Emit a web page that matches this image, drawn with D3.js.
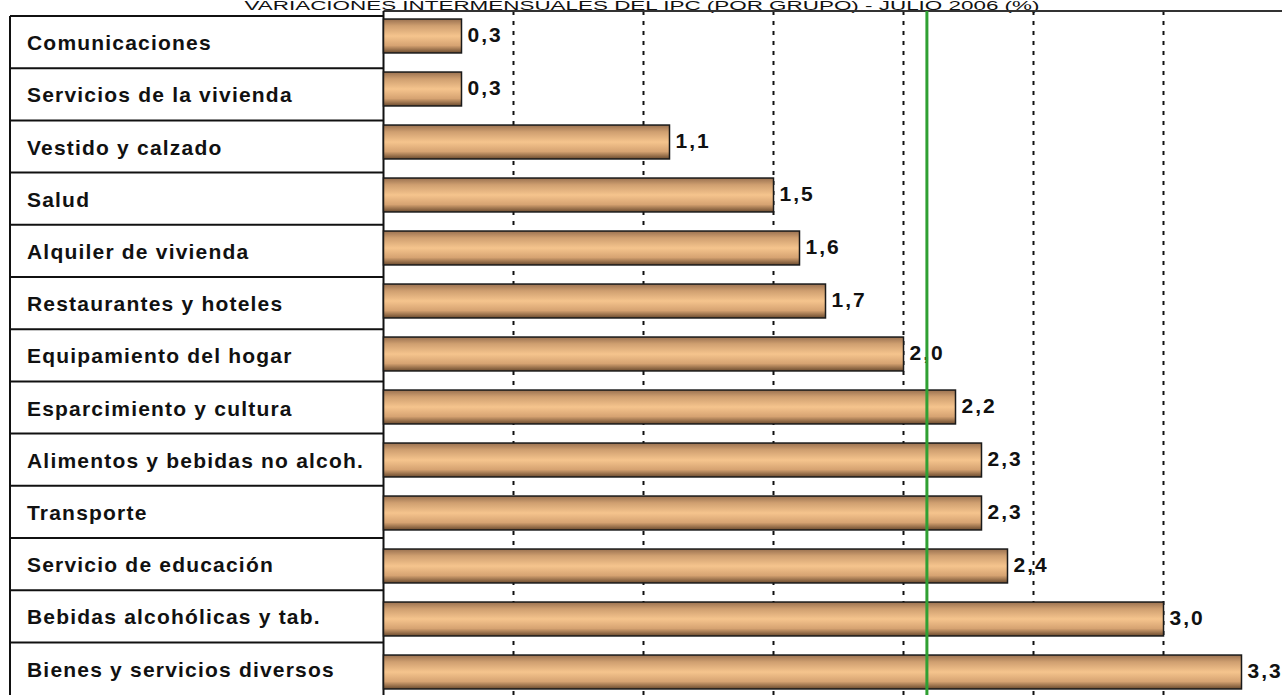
<!DOCTYPE html>
<html>
<head>
<meta charset="utf-8">
<script src="https://cdn.jsdelivr.net/npm/d3@7"></script>
<style>
  html, body { margin: 0; padding: 0; background: #fff; overflow: hidden; }
  svg { display: block; }
  text { font-family: "Liberation Sans", Arial, sans-serif; }
</style>
</head>
<body>
<svg id="chart" width="1282" height="695"></svg>
<script>
// ---- Data ----
const title = "VARIACIONES INTERMENSUALES DEL IPC (POR GRUPO) - JULIO 2006 (%)";
const categories = [
  "Comunicaciones",
  "Servicios de la vivienda",
  "Vestido y calzado",
  "Salud",
  "Alquiler de vivienda",
  "Restaurantes y hoteles",
  "Equipamiento del hogar",
  "Esparcimiento  y cultura",
  "Alimentos y bebidas no alcoh.",
  "Transporte",
  "Servicio de educación",
  "Bebidas alcohólicas y tab.",
  "Bienes y servicios diversos"
];
const values = [0.3, 0.3, 1.1, 1.5, 1.6, 1.7, 2.0, 2.2, 2.3, 2.3, 2.4, 3.0, 3.3];
const valueLabels = ["0,3", "0,3", "1,1", "1,5", "1,6", "1,7", "2,0", "2,2", "2,3", "2,3", "2,4", "3,0", "3,3"];
const gridValues = [0.5, 1.0, 1.5, 2.0, 2.5, 3.0, 3.5];
const generalIndex = [2.09];

// ---- Layout ----
const W = 1282, H = 695;
const plotLeft = 383.5, plotTop = 11;
const svg = d3.select("#chart");

const x = d3.scaleLinear().domain([0, 1]).range([plotLeft, plotLeft + 260]);
const y = d3.scaleBand().domain(categories).range([9.5, 698.5])
  .paddingInner(0.36).paddingOuter(0.18);
const yTable = d3.scaleBand().domain(categories).range([16, 16 + 13 * 52.2]);

// gradient
const defs = svg.append("defs");
const grad = defs.append("linearGradient").attr("id", "barGrad")
  .attr("x1", 0).attr("y1", 0).attr("x2", 0).attr("y2", 1);
[[0, "#9a7150"], [0.2, "#cf9f70"], [0.5, "#f5c48d"], [0.78, "#d6a372"], [1, "#6a4a2e"]]
  .forEach(([o, c]) => grad.append("stop").attr("offset", o).attr("stop-color", c));

// title (at the very top, as in the reference)
svg.append("text").attr("x", 642).attr("y", 9.5)
  .attr("text-anchor", "middle").attr("font-size", 12)
  .attr("textLength", 795).attr("lengthAdjust", "spacingAndGlyphs")
  .attr("fill", "#111").text(title);

// left table
const table = svg.append("g");
table.selectAll("line.row").data(categories).join("line")
  .attr("x1", 10).attr("x2", plotLeft)
  .attr("y1", d => yTable(d)).attr("y2", d => yTable(d))
  .attr("stroke", "#111").attr("stroke-width", 2);
table.append("line").attr("x1", 10).attr("x2", 10).attr("y1", 16).attr("y2", H)
  .attr("stroke", "#111").attr("stroke-width", 2);
table.selectAll("text").data(categories).join("text")
  .attr("x", 27)
  .attr("y", d => yTable(d) + yTable.bandwidth() / 2 + 8)
  .attr("font-size", 21).attr("font-weight", "bold")
  .attr("letter-spacing", 1.2)
  .attr("fill", "#111").text(d => d);

// value labels
svg.append("g").selectAll("text").data(values).join("text")
  .attr("x", d => x(d) + 6)
  .attr("y", (d, i) => y(categories[i]) + y.bandwidth() / 2 + 6)
  .attr("font-size", 21).attr("font-weight", "bold")
  .attr("letter-spacing", 2)
  .attr("fill", "#111").text((d, i) => valueLabels[i]);

// gridlines
svg.append("g").selectAll("line").data(gridValues).join("line")
  .attr("x1", d => x(d)).attr("x2", d => x(d))
  .attr("y1", plotTop).attr("y2", H)
  .attr("stroke", "#111").attr("stroke-width", 2)
  .attr("stroke-dasharray", "4,6");

// frame
svg.append("line").attr("x1", plotLeft).attr("x2", W).attr("y1", plotTop).attr("y2", plotTop)
  .attr("stroke", "#333").attr("stroke-width", 2);
svg.append("line").attr("x1", plotLeft).attr("x2", plotLeft).attr("y1", plotTop).attr("y2", H)
  .attr("stroke", "#111").attr("stroke-width", 2);

// bars
svg.append("g").selectAll("rect").data(values).join("rect")
  .attr("x", x(0))
  .attr("y", (d, i) => y(categories[i]))
  .attr("width", d => x(d) - x(0))
  .attr("height", y.bandwidth())
  .attr("fill", "url(#barGrad)")
  .attr("stroke", "#1a1a1a").attr("stroke-width", 1.5);

// general index line
svg.append("g").selectAll("line").data(generalIndex).join("line")
  .attr("x1", d => x(d)).attr("x2", d => x(d))
  .attr("y1", plotTop).attr("y2", H)
  .attr("stroke", "#2fa033").attr("stroke-width", 3);
</script>
</body>
</html>
